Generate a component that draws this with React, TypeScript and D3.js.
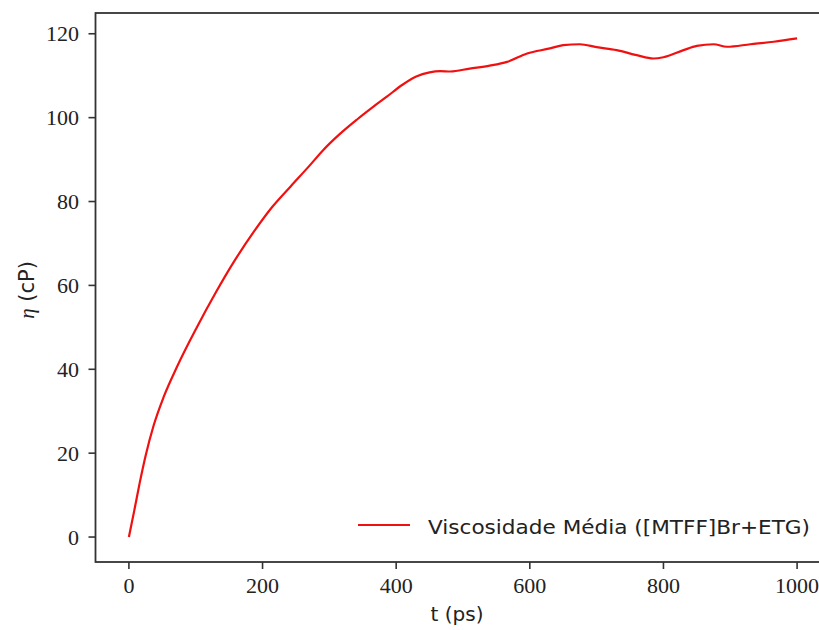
import React from 'react';
import * as d3 from 'd3';

// time (ps) and mean viscosity (cP)
const tPs = [0, 8, 16, 25, 37, 52, 72, 101, 130, 157, 187, 215, 242, 270, 291, 315, 341, 365, 386, 410, 430, 450, 466, 481, 510, 540, 566, 596, 630, 650, 675, 700, 730, 760, 785, 800, 830, 850, 875, 895, 930, 965, 1000];
const etaCp = [0, 6.3, 12.8, 19.4, 26.6, 33.4, 40.6, 49.8, 58.3, 65.6, 72.8, 78.8, 83.6, 88.5, 92.3, 96, 99.5, 102.5, 105, 107.9, 109.8, 110.8, 111.1, 111.0, 111.7, 112.4, 113.3, 115.3, 116.5, 117.3, 117.5, 116.8, 116.1, 114.9, 114.1, 114.4, 116.1, 117.1, 117.5, 116.9, 117.5, 118.1, 118.9];

const xTicks = [0, 200, 400, 600, 800, 1000];
const yTicks = [0, 20, 40, 60, 80, 100, 120];
const legendLabel = 'Viscosidade Média ([MTFF]Br+ETG)';

const W = 819;
const H = 630;
const left = 95.5;
const right = 830.5; // right spine falls outside the picture
const top = 13;
const bottom = 562;

const serif = '"Liberation Serif", "DejaVu Serif", serif';
const sans = '"DejaVu Sans", "Noto Sans", sans-serif';

export default function App() {
  const x = d3.scaleLinear().domain([-50, 1050]).range([left, right]);
  const y = d3.scaleLinear().domain([-5.95, 124.95]).range([bottom, top]);

  const pts = tPs.map((t, i) => [t, etaCp[i]] as [number, number]);
  const path = d3
    .line<[number, number]>()
    .x((d) => x(d[0]))
    .y((d) => y(d[1]))
    .curve(d3.curveMonotoneX)(pts);

  return (
    <svg width={W} height={H} style={{ position: 'absolute', left: 0, top: 0, background: '#fff' }}>
      {/* spines */}
      <rect x={left} y={top} width={right - left} height={bottom - top} fill="none" stroke="#333" strokeWidth={1.8} />

      <path d={path || ''} fill="none" stroke="#f01010" strokeWidth={2.2} strokeLinejoin="round" />

      {/* x ticks */}
      {xTicks.map((t) => (
        <g key={'x' + t}>
          <line x1={x(t)} x2={x(t)} y1={bottom} y2={bottom + 7} stroke="#333" strokeWidth={1.6} />
          <text x={x(t)} y={593} textAnchor="middle" fontFamily={serif} fontSize={22} fill="#222">
            {t}
          </text>
        </g>
      ))}

      {/* y ticks */}
      {yTicks.map((v) => (
        <g key={'y' + v}>
          <line x1={left - 7} x2={left} y1={y(v)} y2={y(v)} stroke="#333" strokeWidth={1.6} />
          <text x={79} y={y(v) + 7.5} textAnchor="end" fontFamily={serif} fontSize={22} fill="#222">
            {v}
          </text>
        </g>
      ))}

      {/* axis labels */}
      <text x={457} y={621} textAnchor="middle" fontFamily={sans} fontSize={20} fill="#222">
        t (ps)
      </text>
      <text transform="translate(34,290) rotate(-90)" textAnchor="middle" fontSize={21} fill="#222">
        <tspan fontFamily={serif} fontStyle="italic">η</tspan>
        <tspan fontFamily={sans}> (cP)</tspan>
      </text>

      {/* legend */}
      <line x1={358} x2={410} y1={525} y2={525} stroke="#f01010" strokeWidth={2.2} />
      <text x={428} y={534} fontFamily={sans} fontSize={20} fill="#222" textLength={382} lengthAdjust="spacingAndGlyphs">
        {legendLabel}
      </text>
    </svg>
  );
}
